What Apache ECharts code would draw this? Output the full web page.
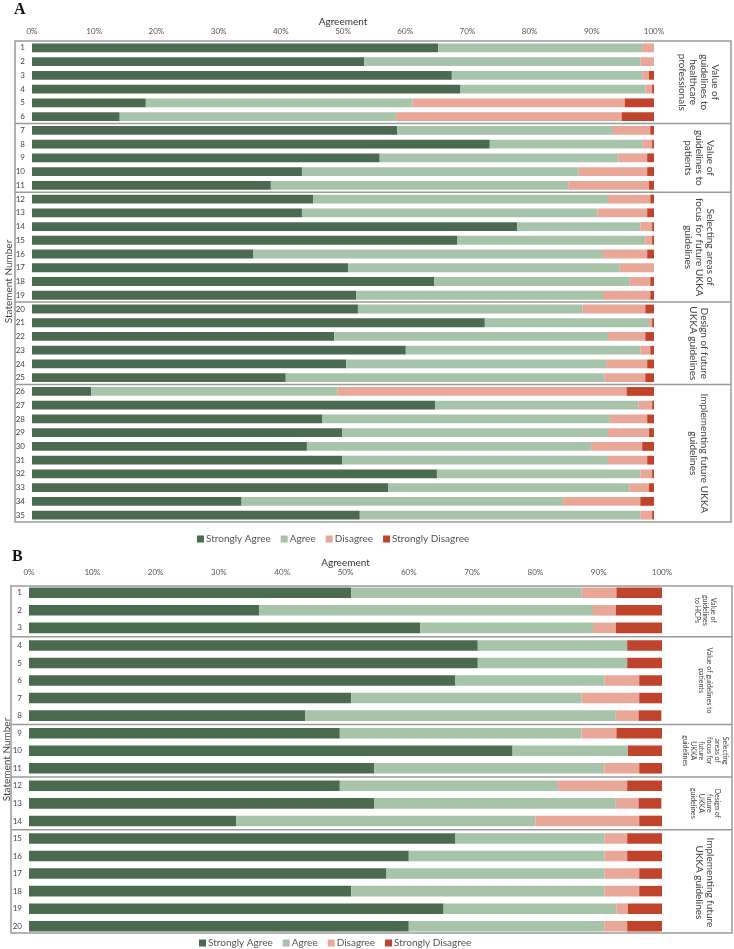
<!DOCTYPE html>
<html>
<head>
<meta charset="utf-8">
<script src="https://cdn.jsdelivr.net/npm/echarts@6/dist/echarts.min.js"></script>
<style>
  html, body { margin: 0; padding: 0; background: #fff; }
  #main { width: 734px; height: 949px; }
</style>
</head>
<body>
<div id="main"></div>
<script>
// ---- data (percent of respondents) ----
var seriesNames = ['Strongly Agree', 'Agree', 'Disagree', 'Strongly Disagree'];
var colors = ['#4b6b50', '#a7c4aa', '#e9a798', '#c0432c'];
var tickValues = [0, 10, 20, 30, 40, 50, 60, 70, 80, 90, 100];

// panel A : 35 statements
var statementsA = ['1','2','3','4','5','6','7','8','9','10','11','12','13','14','15','16','17','18',
  '19','20','21','22','23','24','25','26','27','28','29','30','31','32','33','34','35'];
var stronglyAgreeA = [65.3, 53.4, 67.5, 68.9, 18.3, 14.1, 58.7, 73.6, 55.9, 43.4, 38.4, 45.2, 43.4, 78.0,
  68.4, 35.6, 50.8, 64.7, 52.1, 52.4, 72.8, 48.6, 60.1, 50.5, 40.8, 9.5, 64.8, 46.7, 49.9, 44.2, 49.9,
  65.1, 57.3, 33.7, 52.7];
var agreeA = [32.8, 44.4, 30.6, 29.7, 42.9, 44.4, 34.7, 24.5, 38.4, 44.5, 47.8, 47.4, 47.5, 19.8, 30.2,
  56.2, 43.7, 31.4, 39.7, 36.1, 26.4, 44.0, 37.7, 41.8, 51.2, 39.6, 32.7, 46.2, 42.7, 45.7, 42.7, 32.7,
  38.8, 51.7, 45.1];
var disagreeA = [1.9, 2.2, 1.1, 1.1, 34.1, 36.3, 6.0, 1.6, 4.6, 11.0, 13.0, 6.8, 8.0, 1.9, 1.1, 7.1, 5.5,
  3.3, 7.6, 10.1, 0.5, 6.0, 1.6, 6.6, 6.6, 46.5, 2.2, 6.0, 6.6, 8.2, 6.3, 1.9, 3.1, 12.4, 1.9];
var stronglyDisagreeA = [0, 0, 0.8, 0.3, 4.7, 5.2, 0.6, 0.3, 1.1, 1.1, 0.8, 0.6, 1.1, 0.3, 0.3, 1.1, 0,
  0.6, 0.6, 1.4, 0.3, 1.4, 0.6, 1.1, 1.4, 4.4, 0.3, 1.1, 0.8, 1.9, 1.1, 0.3, 0.8, 2.2, 0.3];
var groupLabelsA = ['Value of\nguidelines to\nhealthcare\nprofessionals', 'Value of\nguidelines to\npatients',
  'Selecting areas of\nfocus for future UKKA\nguidelines', 'Design of future\nUKKA guidelines',
  'Implementing future UKKA\nguidelines'];
var groupEndsA = [6, 11, 19, 25, 35];

// panel B : 20 statements
var statementsB = ['1','2','3','4','5','6','7','8','9','10','11','12','13','14','15','16','17','18','19','20'];
var stronglyAgreeB = [50.9, 36.4, 61.8, 70.9, 70.9, 67.3, 50.9, 43.6, 49.1, 76.4, 54.5, 49.1, 54.5, 32.7,
  67.3, 60.0, 56.4, 50.9, 65.5, 60.0];
var agreeB = [36.4, 52.7, 27.3, 23.6, 23.6, 23.6, 36.4, 49.1, 38.2, 18.2, 36.4, 34.5, 38.2, 47.3, 23.6,
  30.9, 34.5, 40.0, 27.3, 30.9];
var disagreeB = [5.5, 3.6, 3.6, 0, 0, 5.5, 9.1, 3.6, 5.5, 0, 5.5, 10.9, 3.6, 16.4, 3.6, 3.6, 5.5, 5.5, 1.8, 3.6];
var stronglyDisagreeB = [7.3, 7.3, 7.3, 5.5, 5.5, 3.6, 3.6, 3.6, 7.3, 5.5, 3.6, 5.5, 3.6, 3.6, 5.5, 5.5,
  3.6, 3.6, 5.5, 5.5];
var groupLabelsB = ['Value of\nguidelines\nto HCPs', 'Value of guidelines to\npatients',
  'Selecting\nareas of\nfocus for\nfuture\nUKKA\nguidelines', 'Design of\nfuture\nUKKA\nguidelines',
  'Implementing future\nUKKA guidelines'];
var groupEndsB = [3, 8, 11, 14, 20];
var groupFontB = [7, 7, 7, 7, 10];

var FONT = 'Lato, "Open Sans", sans-serif';
var chart = echarts.init(document.getElementById('main'));

function xAxisFor(gridIndex, nameGap, margin) {
  return {
    gridIndex: gridIndex, type: 'value', position: 'top', min: 0, max: 100, interval: 10,
    name: 'Agreement', nameLocation: 'middle', nameGap: nameGap, nameMoveOverlap: false,
    nameTextStyle: { fontFamily: FONT, fontSize: 10, color: '#333' },
    axisLine: { show: false }, axisTick: { show: false }, splitLine: { show: false },
    axisLabel: {
      fontFamily: FONT, fontSize: 8, color: '#555', margin: margin,
      formatter: function (v) { return tickValues.indexOf(v) >= 0 ? v + '%' : ''; }
    }
  };
}
function yAxisFor(gridIndex, cats, nameGap) {
  return {
    gridIndex: gridIndex, type: 'category', data: cats, inverse: true,
    name: 'Statement Number', nameLocation: 'middle', nameGap: nameGap, nameMoveOverlap: false,
    nameTextStyle: { fontFamily: FONT, fontSize: 10, color: '#444' },
    axisLine: { show: false }, axisTick: { show: false },
    axisLabel: { fontFamily: FONT, fontSize: 8, color: '#444', margin: 7 }
  };
}
function seriesFor(idx, lists, gap) {
  return lists.map(function (d, i) {
    return {
      name: seriesNames[i], type: 'bar', stack: 'p' + idx, xAxisIndex: idx, yAxisIndex: idx,
      data: d, barCategoryGap: gap, itemStyle: { color: colors[i] }, silent: true
    };
  });
}
function legendFor(left, top) {
  return {
    left: left, top: top, padding: 0, itemWidth: 7, itemHeight: 7, itemGap: 10, icon: 'rect',
    data: seriesNames, textStyle: { fontFamily: FONT, fontSize: 10, color: '#555', padding: [0, 0, 0, -3] }
  };
}

chart.setOption({
  animation: false,
  grid: [
    { left: 32, top: 41, width: 622, height: 481, containLabel: false, outerBoundsMode: 'none' },
    { left: 29, top: 584, width: 633, height: 351, containLabel: false, outerBoundsMode: 'none' }
  ],
  xAxis: [xAxisFor(0, 14, 6), xAxisFor(1, 16, 8)],
  yAxis: [yAxisFor(0, statementsA, 18), yAxisFor(1, statementsB, 17)],
  legend: [legendFor(197, 534), legendFor(199, 938)],
  series: seriesFor(0, [stronglyAgreeA, agreeA, disagreeA, stronglyDisagreeA], '36%')
    .concat(seriesFor(1, [stronglyAgreeB, agreeB, disagreeB, stronglyDisagreeB], '40%'))
});

// frames, group dividers and group labels placed from the category axis
function panelGraphics(axisIdx, frame, ends, labels, fonts, labelX) {
  var out = [];
  out.push({
    type: 'rect', shape: { x: frame.x, y: frame.y, width: frame.w, height: frame.h },
    style: { fill: 'none', stroke: '#9a9a9a', lineWidth: 1.5 }, silent: true
  });
  var start = 0;
  ends.forEach(function (end, g) {
    var yA = chart.convertToPixel({ yAxisIndex: axisIdx }, start);
    var yB = chart.convertToPixel({ yAxisIndex: axisIdx }, end - 1);
    if (end < ends[ends.length - 1]) {
      var y1 = chart.convertToPixel({ yAxisIndex: axisIdx }, end);
      var yl = (yB + y1) / 2;
      out.push({
        type: 'line', shape: { x1: frame.x, y1: yl, x2: frame.x + frame.w, y2: yl },
        style: { stroke: '#9a9a9a', lineWidth: 1.5 }, silent: true
      });
    }
    var fs = fonts ? fonts[g] : 10;
    out.push({
      type: 'text', x: labelX, y: (yA + yB) / 2, rotation: -Math.PI / 2, silent: true,
      style: {
        text: labels[g], fontFamily: FONT, fontSize: fs, lineHeight: fs + 1, fill: '#444',
        align: 'center', verticalAlign: 'middle'
      }
    });
    start = end;
  });
  return out;
}

var graphics = []
  .concat(panelGraphics(0, { x: 15, y: 41, w: 716, h: 481 }, groupEndsA, groupLabelsA, null, 699))
  .concat(panelGraphics(1, { x: 11, y: 586, w: 721, h: 347 }, groupEndsB, groupLabelsB, groupFontB, 705));
graphics.push({
  type: 'text', x: 14, y: 2, silent: true,
  style: { text: 'A', fontFamily: '"Liberation Serif", serif', fontWeight: 'bold', fontSize: 16, fill: '#111' }
});
graphics.push({
  type: 'text', x: 12, y: 549, silent: true,
  style: { text: 'B', fontFamily: '"Liberation Serif", serif', fontWeight: 'bold', fontSize: 16, fill: '#111' }
});
chart.setOption({ graphic: graphics });
</script>
</body>
</html>
